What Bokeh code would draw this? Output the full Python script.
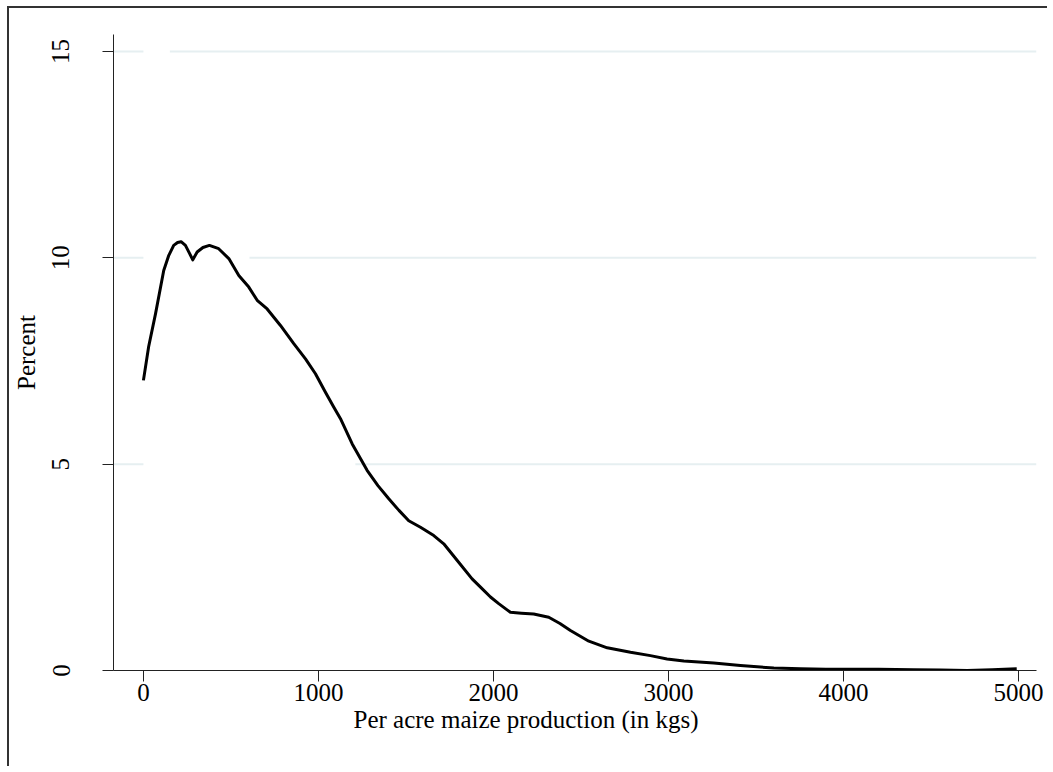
from bokeh.plotting import figure
from bokeh.models import FixedTicker, Range1d, Title
from bokeh.embed import file_html
from bokeh.resources import INLINE

# Data (kernel-density-like curve, percent)
production_kgs = [0, 30, 69, 116, 145, 173, 195, 215, 240, 262, 282, 307, 340, 377,
                  430, 488, 545, 602, 650, 707, 783, 859, 926, 983, 1040, 1088, 1126,
                  1193, 1278, 1340, 1402, 1460, 1516, 1583, 1659, 1716, 1792, 1878,
                  1926, 1983, 2030, 2097, 2160, 2230, 2316, 2380, 2440, 2545, 2650,
                  2783, 2897, 2992, 3088, 3259, 3411, 3602, 3754, 3900, 4000, 4200,
                  4400, 4554, 4707, 4850, 4990]
percent = [7.03, 7.85, 8.64, 9.69, 10.06, 10.30, 10.37, 10.39, 10.30, 10.12, 9.95,
           10.14, 10.25, 10.30, 10.22, 9.98, 9.57, 9.29, 8.97, 8.76, 8.36, 7.92, 7.55,
           7.19, 6.74, 6.38, 6.10, 5.49, 4.85, 4.48, 4.16, 3.88, 3.63, 3.47, 3.27,
           3.07, 2.67, 2.22, 2.02, 1.78, 1.62, 1.41, 1.39, 1.37, 1.29, 1.14, 0.97,
           0.71, 0.55, 0.44, 0.36, 0.28, 0.23, 0.18, 0.12, 0.06, 0.04, 0.03, 0.03,
           0.03, 0.02, 0.01, 0.00, 0.02, 0.04]

x_ticks = [0, 1000, 2000, 3000, 4000, 5000]
y_ticks = [0, 5, 10, 15]
grid_levels = [5, 10, 15]
grid_gap_end = [1211, 606, 151]   # gridlines resume after these x values

x_min, x_max = -171, 5103
y_min, y_max = 0, 15.41

FONT = "Liberation Serif"

p = figure(width=1040, height=760, output_backend="svg", toolbar_location=None,
           x_range=Range1d(x_min, x_max), y_range=Range1d(y_min, y_max),
           min_border_left=104, min_border_right=13, min_border_top=26,
           min_border_bottom=98,
           styles={"margin-left": "7px", "margin-top": "6px",
                   "border-left": "2px solid #333", "border-top": "2px solid #333"})
p.outline_line_color = None
p.xgrid.visible = False
p.ygrid.visible = False
p.background_fill_color = "white"
p.border_fill_color = "white"

# gridlines (with the gaps seen in the reference)
p.segment(x0=[x_min] * len(grid_levels), y0=grid_levels, x1=[0] * len(grid_levels),
          y1=grid_levels, line_color="#e6eff1", line_width=2)
p.segment(x0=grid_gap_end, y0=grid_levels, x1=[x_max] * len(grid_levels),
          y1=grid_levels, line_color="#e6eff1", line_width=2)

p.line(production_kgs, percent, line_color="black", line_width=3, line_join="round")

for ax in (p.xaxis[0], p.yaxis[0]):
    ax.axis_line_color = "#222"
    ax.axis_line_width = 1
    ax.major_tick_line_color = "#222"
    ax.major_tick_line_width = 1
    ax.major_tick_out = 11
    ax.major_tick_in = 0
    ax.minor_tick_line_color = None
    ax.major_label_text_font = FONT
    ax.major_label_text_font_size = "25px"
    ax.major_label_text_color = "black"
    ax.axis_label_text_font = FONT
    ax.axis_label_text_font_size = "25px"
    ax.axis_label_text_font_style = "normal"
    ax.axis_label_text_color = "black"

p.xaxis.ticker = FixedTicker(ticks=x_ticks)
p.yaxis.ticker = FixedTicker(ticks=y_ticks)
p.xaxis.major_label_standoff = 2
p.yaxis.major_label_orientation = "vertical"
p.yaxis.major_label_standoff = 33
p.yaxis.axis_label = "Percent"
p.yaxis.axis_label_standoff = 10

xtitle = Title(text="Per acre maize production (in kgs)", align="left", offset=240,
               standoff=0, text_font=FONT, text_font_size="25px",
               text_font_style="normal", text_color="black")
p.add_layout(xtitle, "below")

open("out.html", "w").write(file_html(p, INLINE))
